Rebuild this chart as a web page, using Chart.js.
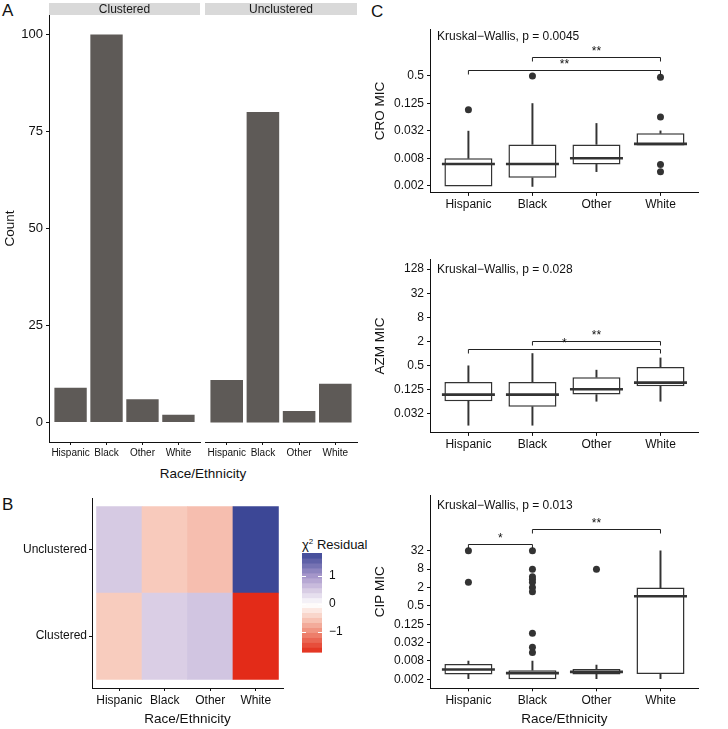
<!DOCTYPE html>
<html>
<head>
<meta charset="utf-8">
<script src="https://cdn.jsdelivr.net/npm/chart.js@4.4.0/dist/chart.umd.min.js"></script>
<style>
  body { margin: 0; background: #fff; width: 728px; height: 729px; position: relative; overflow: hidden;
         font-family: "Liberation Sans", Arial, sans-serif; color: #111; }
  canvas { position: absolute; }
  .lbl { position: absolute; white-space: nowrap; line-height: 17px; }
</style>
</head>
<body>
<div class="lbl" style="left:2px;top:2px;font-size:17px">A</div>
<div class="lbl" style="left:2px;top:496px;font-size:17px">B</div>
<div class="lbl" style="left:371px;top:3px;font-size:17px">C</div>
<div class="lbl" style="left:153px;top:465px;width:100px;text-align:center;font-size:13.5px">Race/Ethnicity</div>
<div class="lbl" style="left:302px;top:533px;font-size:13px">&chi;<sup style="font-size:8px">2</sup> Residual</div>

<canvas id="a1" width="202" height="490" style="left:0;top:0"></canvas>
<canvas id="a2" width="160" height="490" style="left:203px;top:0"></canvas>
<canvas id="b" width="300" height="239" style="left:0;top:490px"></canvas>
<canvas id="leg" width="60" height="125" style="left:296px;top:540px"></canvas>
<canvas id="c1" width="360" height="222" style="left:368px;top:0"></canvas>
<canvas id="c2" width="360" height="232" style="left:368px;top:230px"></canvas>
<canvas id="c3" width="360" height="267" style="left:368px;top:462px"></canvas>

<script>
// ---- data ----
const races = ['Hispanic', 'Black', 'Other', 'White'];

// panel A
const clusteredCounts = [9, 100, 6, 2];
const unclusteredCounts = [11, 80, 3, 10];
const countTicks = [0, 25, 50, 75, 100];

// panel B (chi-square residuals)
const rows = ['Clustered', 'Unclustered'];
const clusteredResid = [-0.49, 0.48, 0.57, -1.73];
const unclusteredResid = [0.52, -0.51, -0.60, 1.83];
const residTicks = [-1, 0, 1];

// panel C: box stats (MIC)
const croLow  = [0.00195, 0.00195, 0.0041, 0.0153];
const croQ1   = [0.00195, 0.0030, 0.0059, 0.0153];
const croMed  = [0.0060, 0.0060, 0.0080, 0.0165];
const croQ3   = [0.0080, 0.0161, 0.0161, 0.028];
const croHigh = [0.0313, 0.125, 0.046, 0.0317];
const croOut  = [[0.0915], [0.5], [], [0.47, 0.064, 0.0059, 0.0041]];
const croTicks = [0.002, 0.008, 0.032, 0.125, 0.5];

const azmLow  = [0.0166, 0.0166, 0.0656, 0.0656];
const azmQ1   = [0.0656, 0.048, 0.096, 0.155];
const azmMed  = [0.096, 0.096, 0.131, 0.191];
const azmQ3   = [0.198, 0.198, 0.26, 0.467];
const azmHigh = [0.5, 1.01, 0.39, 0.785];
const azmOut  = [[], [], [], []];
const azmTicks = [0.032, 0.125, 0.5, 2, 8, 32, 128];

const cipLow  = [0.0021, 0.002, 0.0021, 0.0021];
const cipQ1   = [0.0029, 0.002, 0.0029, 0.003];
const cipMed  = [0.0042, 0.0032, 0.0035, 1.04];
const cipQ3   = [0.0063, 0.0040, 0.0044, 2];
const cipHigh = [0.0079, 0.0079, 0.0059, 32];
const cipOut  = [[32, 2.97], [32, 8, 4.53, 3.73, 2.97, 2.0, 1.46, 0.064, 0.0225, 0.015], [8], []];
const cipTicks = [0.002, 0.008, 0.032, 0.125, 0.5, 2, 8, 32];

// significance brackets
const croPairs = [[1, 4], [2, 4]], croBracketY = [0.67, 1.27], croStars = ['**', '**'];
const azmPairs = [[1, 4], [2, 4]], azmBracketY = [1.31, 2.13], azmStars = ['*', '**'];
const cipPairs = [[1, 2], [2, 4]], cipBracketY = [53, 164], cipStars = ['*', '**'];
const croKW = 'Kruskal\u2212Wallis, p = 0.0045';
const azmKW = 'Kruskal\u2212Wallis, p = 0.028';
const cipKW = 'Kruskal\u2212Wallis, p = 0.013';

// ---- styling ----
Chart.defaults.font.family = '"Liberation Sans", Arial, sans-serif';
Chart.defaults.color = '#111';
Chart.defaults.animation = false;
Chart.defaults.events = [];
Chart.defaults.plugins.legend.display = false;
Chart.defaults.plugins.tooltip.enabled = false;

const ink = '#111';
const boxInk = '#333';
const barGrey = '#5e5a57';

const fixW = w => s => { s.width = w; s.paddingTop = 0; s.paddingBottom = 0; };
const fixH = h => s => { s.height = h; s.paddingLeft = 0; s.paddingRight = 0; };
const gridOpts = { drawOnChartArea: false, drawTicks: true, tickLength: 3, color: ink, offset: false };
const borderOpts = { display: true, color: ink, width: 1 };

const residStops = [[-1.73, [227, 43, 24]], [-1, [239, 140, 120]], [-0.5, [248, 203, 189]], [0, [255, 255, 255]],
                    [0.5, [216, 204, 228]], [1, [169, 153, 204]], [1.83, [60, 71, 150]]];
function residColor(v) {
  let i = 0;
  while (i < residStops.length - 2 && v > residStops[i + 1][0]) i++;
  const [v0, c0] = residStops[i], [v1, c1] = residStops[i + 1];
  const t = Math.max(0, Math.min(1, (v - v0) / (v1 - v0)));
  const c = c0.map((a, k) => Math.round(a + (c1[k] - a) * t));
  return `rgb(${c[0]},${c[1]},${c[2]})`;
}

function catAxis(labels, size, extra) {
  return Object.assign({
    type: 'linear', min: 0.4, max: 4.6, bounds: 'data', offset: false,
    afterBuildTicks: s => { s.ticks = labels.map((_, i) => ({ value: i + 1 })); },
    ticks: { autoSkip: false, maxRotation: 0, padding: 2, font: { size }, callback: v => labels[v - 1] },
    grid: gridOpts, border: borderOpts
  }, extra);
}

// ---- plugins ----
const strip = {
  id: 'strip',
  afterDraw(chart, args, o) {
    const { ctx, chartArea: a } = chart;
    ctx.save();
    ctx.fillStyle = '#d9d9d9';
    ctx.fillRect(a.left, 3, a.right - a.left, 12);
    ctx.fillStyle = '#1a1a1a';
    ctx.font = '12px "Liberation Sans", Arial, sans-serif';
    ctx.textAlign = 'center';
    ctx.textBaseline = 'middle';
    ctx.fillText(o.text, (a.left + a.right) / 2, 9.5);
    ctx.restore();
  }
};

const colorbar = {
  id: 'colorbar',
  beforeDraw(chart) {
    const { ctx, chartArea: a, scales: { y } } = chart;
    const n = 20, lo = y.min, hi = y.max;
    ctx.save();
    for (let i = 0; i < n; i++) {
      const v0 = lo + (hi - lo) * i / n, v1 = lo + (hi - lo) * (i + 1) / n;
      const yt = y.getPixelForValue(v1), yb = y.getPixelForValue(v0);
      ctx.fillStyle = residColor((v0 + v1) / 2);
      ctx.fillRect(a.left, yt, a.right - a.left, yb - yt + 0.6);
    }
    ctx.strokeStyle = '#fff';
    ctx.lineWidth = 1;
    residTicks.forEach(v => {
      const yy = Math.round(y.getPixelForValue(v)) + 0.5;
      ctx.beginPath();
      ctx.moveTo(a.left, yy); ctx.lineTo(a.left + 4, yy);
      ctx.moveTo(a.right - 4, yy); ctx.lineTo(a.right, yy);
      ctx.stroke();
    });
    ctx.restore();
  }
};

const boxExtras = {
  id: 'boxExtras',
  afterDatasetsDraw(chart, args, o) {
    const { ctx, chartArea: a, scales: { x, y } } = chart;
    ctx.save();
    ctx.strokeStyle = '#222';
    ctx.fillStyle = ink;
    ctx.lineWidth = 1;
    ctx.font = '12px "Liberation Sans", Arial, sans-serif';
    o.pairs.forEach((p, i) => {
      const x1 = x.getPixelForValue(p[0]), x2 = x.getPixelForValue(p[1]);
      const yy = Math.round(y.getPixelForValue(o.heights[i])) + 0.5;
      ctx.beginPath();
      ctx.moveTo(x1, yy + 4); ctx.lineTo(x1, yy); ctx.lineTo(x2, yy); ctx.lineTo(x2, yy + 4);
      ctx.stroke();
      ctx.textAlign = 'center';
      ctx.textBaseline = 'alphabetic';
      ctx.fillText(o.stars[i], (x1 + x2) / 2, yy - 3);
    });
    ctx.textAlign = 'left';
    ctx.textBaseline = 'middle';
    ctx.fillText(o.kw, a.left + 7, a.top + o.kwOffset);
    ctx.restore();
  }
};

// ---- panel A ----
function countChart(id, counts, title, showY, pad) {
  return new Chart(id, {
    type: 'bar',
    data: { datasets: [{ data: races.map((r, i) => ({ x: i + 1, y: counts[i] })), backgroundColor: barGrey }] },
    options: {
      responsive: false, devicePixelRatio: 1,
      layout: { padding: pad },
      datasets: { bar: { barPercentage: 0.9, categoryPercentage: 1 } },
      plugins: { strip: { text: title } },
      scales: {
        x: catAxis(races, 10, { afterFit: fixH(48) }),
        y: {
          display: showY, type: 'linear', min: -5, max: 105, bounds: 'data', beginAtZero: false,
          afterBuildTicks: s => { s.ticks = countTicks.map(v => ({ value: v })); },
          ticks: { font: { size: 13 }, padding: 3 },
          grid: gridOpts, border: borderOpts,
          title: { display: true, text: 'Count', font: { size: 13.5 }, padding: { top: 2, bottom: 0 } },
          afterFit: fixW(showY ? 49 : 0)
        }
      }
    },
    plugins: [strip]
  });
}
countChart('a1', clusteredCounts, 'Clustered', true, { left: 0, right: 2, top: 15, bottom: 0 });
countChart('a2', unclusteredCounts, 'Unclustered', false, { left: 2, right: 6, top: 15, bottom: 0 });

// ---- panel B ----
new Chart('b', {
  type: 'bar',
  data: {
    datasets: [clusteredResid, unclusteredResid].map((res, r) => ({
      data: races.map((c, i) => ({ x: i + 1, y: [r + 0.5, r + 1.5] })),
      backgroundColor: res.map(residColor)
    }))
  },
  options: {
    responsive: false, devicePixelRatio: 1,
    layout: { padding: { left: 0, right: 17, top: 8, bottom: 0 } },
    datasets: { bar: { grouped: false, barPercentage: 1, categoryPercentage: 1, borderWidth: 0 } },
    scales: {
      x: catAxis(races, 12, {
        afterFit: fixH(41),
        title: { display: true, text: 'Race/Ethnicity', font: { size: 13.5 }, padding: { top: 0, bottom: 2 } }
      }),
      y: {
        type: 'linear', min: 0.4, max: 2.6, bounds: 'data', beginAtZero: false,
        afterBuildTicks: s => { s.ticks = rows.map((_, i) => ({ value: i + 1 })); },
        ticks: { font: { size: 12 }, padding: 2, callback: v => rows[v - 1] },
        grid: gridOpts, border: borderOpts,
        afterFit: fixW(92)
      }
    }
  }
});

// legend colour bar
new Chart('leg', {
  type: 'bar',
  data: { datasets: [] },
  options: {
    responsive: false, devicePixelRatio: 1,
    layout: { padding: { left: 6, right: 0, top: 13, bottom: 13 } },
    scales: {
      x: { display: false },
      y: {
        type: 'linear', position: 'right', min: -1.73, max: 1.83, bounds: 'data', beginAtZero: false,
        afterBuildTicks: s => { s.ticks = residTicks.map(v => ({ value: v })); },
        ticks: { font: { size: 12 }, padding: 7, callback: v => v < 0 ? '\u2212' + Math.abs(v) : String(v) },
        grid: { display: false, drawTicks: false }, border: { display: false },
        afterFit: fixW(34)
      }
    }
  },
  plugins: [colorbar]
});

// ---- panel C ----
function boxChart(id, s, o) {
  const xs = races.map((r, i) => i + 1);
  const outliers = [];
  s.out.forEach((list, i) => list.forEach(v => outliers.push({ x: i + 1, y: v })));
  return new Chart(id, {
    type: 'bar',
    data: {
      datasets: [
        { type: 'scatter', data: xs.map((x, i) => ({ x, y: s.med[i] })), pointStyle: 'line',
          pointRadius: 26.5, borderColor: boxInk, borderWidth: 2.6, order: 0 },
        { type: 'scatter', data: outliers, pointRadius: 3.5, backgroundColor: boxInk, borderWidth: 0, order: 0 },
        { data: xs.map((x, i) => ({ x, y: [s.q1[i], s.q3[i]] })), backgroundColor: '#fff', borderColor: boxInk,
          borderWidth: 1.5, borderSkipped: false, barPercentage: 0.75, order: 1 },
        { data: xs.filter((x, i) => s.low[i] < s.q1[i]).map(x => ({ x, y: [s.low[x - 1], s.q1[x - 1]] })),
          backgroundColor: boxInk, barThickness: 1.3, order: 2 },
        { data: xs.filter((x, i) => s.high[i] > s.q3[i]).map(x => ({ x, y: [s.q3[x - 1], s.high[x - 1]] })),
          backgroundColor: boxInk, barThickness: 1.3, order: 2 }
      ]
    },
    options: {
      responsive: false, devicePixelRatio: 1,
      layout: { padding: { left: 0, right: 1, top: o.top, bottom: 0 } },
      datasets: { bar: { grouped: false, categoryPercentage: 1 } },
      plugins: { boxExtras: { pairs: o.pairs, heights: o.heights, stars: o.stars, kw: o.kw, kwOffset: o.kwOffset } },
      scales: {
        x: catAxis(races, 12, {
          afterFit: fixH(o.xh),
          title: { display: o.xTitle, text: 'Race/Ethnicity', font: { size: 13.5 }, padding: { top: 0, bottom: 2 } }
        }),
        y: {
          type: 'logarithmic', min: o.min, max: o.max, bounds: 'data', beginAtZero: false,
          afterBuildTicks: sc => { sc.ticks = o.ticks.map(v => ({ value: v })); },
          ticks: { font: { size: 12 }, padding: 3, callback: v => String(v) },
          grid: gridOpts, border: borderOpts,
          title: { display: true, text: o.title, font: { size: 13.5 }, padding: { top: 4, bottom: 0 } },
          afterFit: fixW(62)
        }
      }
    },
    plugins: [boxExtras]
  });
}

boxChart('c1', { low: croLow, q1: croQ1, med: croMed, q3: croQ3, high: croHigh, out: croOut },
  { top: 5, xh: 28, min: 0.00141, max: 5.24, ticks: croTicks, title: 'CRO MIC', xTitle: false,
    pairs: croPairs, heights: croBracketY, stars: croStars, kw: croKW, kwOffset: 8 });
boxChart('c2', { low: azmLow, q1: azmQ1, med: azmMed, q3: azmQ3, high: azmHigh, out: azmOut },
  { top: 18, xh: 21.3, min: 0.0107, max: 226, ticks: azmTicks, title: 'AZM MIC', xTitle: false,
    pairs: azmPairs, heights: azmBracketY, stars: azmStars, kw: azmKW, kwOffset: 11 });
boxChart('c3', { low: cipLow, q1: cipQ1, med: cipMed, q3: cipQ3, high: cipHigh, out: cipOut },
  { top: 33, xh: 40.7, min: 0.00102, max: 2120, ticks: cipTicks, title: 'CIP MIC', xTitle: true,
    pairs: cipPairs, heights: cipBracketY, stars: cipStars, kw: cipKW, kwOffset: 11 });
</script>
</body>
</html>
